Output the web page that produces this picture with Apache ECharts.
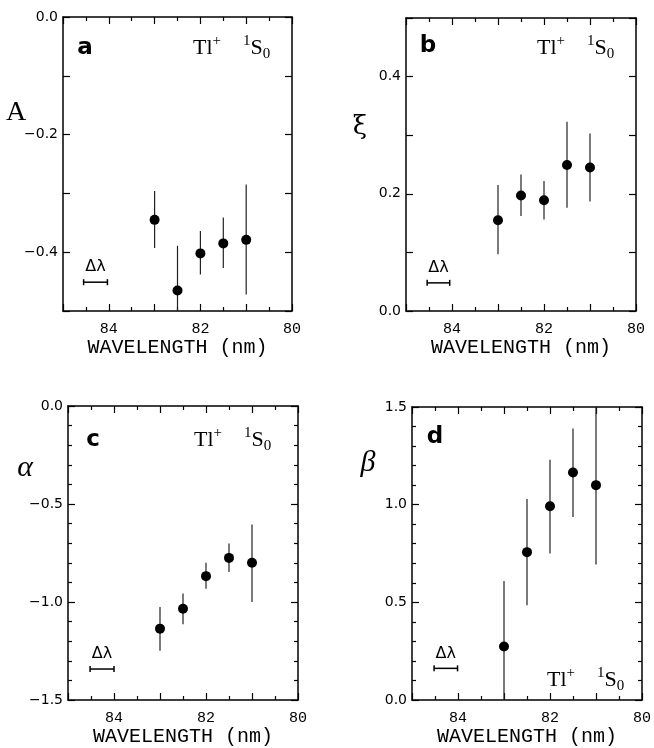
<!DOCTYPE html>
<html>
<head>
<meta charset="utf-8">
<script src="https://cdn.jsdelivr.net/npm/echarts@6/dist/echarts.min.js"></script>
<style>
html, body { margin: 0; padding: 0; background: #fff; }
#chart { width: 654px; height: 748px; }
</style>
</head>
<body>
<div id="chart"></div>
<script>
// wavelength of each measurement (nm)
const wavelength = [83, 82.5, 82, 81.5, 81];

// panel a : A
const aVal = [-0.345, -0.465, -0.402, -0.385, -0.379];
const aLow = [-0.393, -0.5, -0.438, -0.427, -0.472];
const aHigh = [-0.296, -0.389, -0.364, -0.341, -0.285];

// panel b : xi
const bVal = [0.155, 0.197, 0.189, 0.249, 0.245];
const bLow = [0.097, 0.162, 0.156, 0.176, 0.187];
const bHigh = [0.215, 0.233, 0.222, 0.323, 0.303];

// panel c : alpha
const cVal = [-1.136, -1.034, -0.868, -0.775, -0.80];
const cLow = [-1.249, -1.114, -0.932, -0.847, -1.0];
const cHigh = [-1.025, -0.956, -0.80, -0.702, -0.605];

// panel d : beta
const dVal = [0.274, 0.757, 0.992, 1.165, 1.10];
const dLow = [0.0, 0.485, 0.75, 0.937, 0.694];
const dHigh = [0.609, 1.029, 1.23, 1.39, 1.5];

// resolution bar (from, to, level) per panel
const resFrom = [84.55, 84.54, 84.52, 84.52];
const resTo = [84.03, 84.05, 84.0, 84.01];
const resLevel = [-0.451, 0.048, -1.342, 0.162];

// x axis range and labels
const xMin = 80;
const xMax = 85;
const xLabels = [84, 82, 80];

const values = [aVal, bVal, cVal, dVal];
const lows = [aLow, bLow, cLow, dLow];
const highs = [aHigh, bHigh, cHigh, dHigh];

// layout of the four boxes
const panels = [
  { left: 63, top: 17, width: 229, height: 294, yMin: -0.5, yMax: 0, yStep: 0.1, minor: 0, labelEvery: 2 },
  { left: 406, top: 18, width: 230, height: 293, yMin: 0, yMax: 0.5, yStep: 0.1, minor: 0, labelEvery: 2 },
  { left: 68, top: 406, width: 230, height: 295, yMin: -1.5, yMax: 0, yStep: 0.5, minor: 5, labelEvery: 1 },
  { left: 412, top: 407, width: 230, height: 294, yMin: 0, yMax: 1.5, yStep: 0.5, minor: 5, labelEvery: 1 }
];

const lineStyle = { color: '#000', width: 1.5 };

function yFormatter(p) {
  return function (v) {
    const k = Math.round(v / p.yStep);
    if (k % p.labelEvery !== 0) return '';
    return v.toFixed(1).replace('-', '\u2212');
  };
}

function renderErr(params, api) {
  const top = api.coord([api.value(0), api.value(2)]);
  const bot = api.coord([api.value(0), api.value(1)]);
  return {
    type: 'line',
    shape: { x1: top[0], y1: top[1], x2: bot[0], y2: bot[1] },
    style: { stroke: '#222', lineWidth: 1.2 }
  };
}

function renderRes(params, api) {
  const p1 = api.coord([api.value(0), api.value(2)]);
  const p2 = api.coord([api.value(1), api.value(2)]);
  const y = p1[1];
  const st = { stroke: '#000', lineWidth: 1.5 };
  return {
    type: 'group',
    children: [
      { type: 'line', shape: { x1: p1[0], y1: y, x2: p2[0], y2: y }, style: st },
      { type: 'line', shape: { x1: p1[0], y1: y - 3, x2: p1[0], y2: y + 3 }, style: st },
      { type: 'line', shape: { x1: p2[0], y1: y - 3, x2: p2[0], y2: y + 3 }, style: st },
      {
        type: 'text',
        style: {
          text: 'Δλ', x: (p1[0] + p2[0]) / 2, y: y - 7,
          align: 'center', verticalAlign: 'bottom',
          font: '16px "DejaVu Sans"', fill: '#000'
        }
      }
    ]
  };
}

const grid = [];
const xAxis = [];
const yAxis = [];
const series = [];

panels.forEach(function (p, i) {
  grid.push({ left: p.left, top: p.top, width: p.width, height: p.height });
  ['bottom', 'top'].forEach(function (pos) {
    xAxis.push({
      type: 'value', gridIndex: i, position: pos,
      min: xMin, max: xMax, interval: 1, inverse: true,
      axisLine: { show: true, onZero: false, lineStyle: lineStyle },
      axisTick: { show: true, inside: true, length: 7, lineStyle: { color: '#000', width: 1.2 } },
      minorTick: { show: true, splitNumber: 2, length: 4, lineStyle: { color: '#000', width: 1.2 } },
      splitLine: { show: false },
      axisLabel: {
        show: pos === 'bottom', margin: 11, showMinLabel: true, showMaxLabel: true,
        color: '#000', fontSize: 15, fontFamily: 'Liberation Mono',
        formatter: function (v) { return xLabels.indexOf(v) >= 0 ? String(v) : ''; }
      },
      name: pos === 'bottom' ? 'WAVELENGTH (nm)' : '',
      nameLocation: 'middle', nameGap: 27,
      nameTextStyle: { color: '#000', fontSize: 20, fontFamily: 'Liberation Mono' }
    });
  });
  ['left', 'right'].forEach(function (pos) {
    yAxis.push({
      type: 'value', gridIndex: i, position: pos,
      min: p.yMin, max: p.yMax, interval: p.yStep,
      axisLine: { show: true, onZero: false, lineStyle: lineStyle },
      axisTick: { show: true, inside: true, length: 7, lineStyle: { color: '#000', width: 1.2 } },
      minorTick: { show: p.minor > 0, splitNumber: p.minor || 5, length: 4, lineStyle: { color: '#000', width: 1.2 } },
      splitLine: { show: false },
      axisLabel: {
        show: pos === 'left', margin: 5, showMinLabel: true, showMaxLabel: true,
        color: '#000', fontSize: 14, fontFamily: 'DejaVu Sans',
        formatter: yFormatter(p)
      }
    });
  });

  const errData = wavelength.map(function (w, j) { return [w, lows[i][j], highs[i][j]]; });
  const ptData = wavelength.map(function (w, j) { return [w, values[i][j]]; });

  series.push({
    type: 'custom', xAxisIndex: i * 2, yAxisIndex: i * 2,
    renderItem: renderErr, data: errData,
    encode: { x: 0, y: [1, 2] }, silent: true, animation: false
  });
  series.push({
    type: 'scatter', xAxisIndex: i * 2, yAxisIndex: i * 2,
    data: ptData, symbol: 'circle', symbolSize: 10,
    itemStyle: { color: '#000', opacity: 1 }, silent: true, animation: false, z: 3
  });
  series.push({
    type: 'custom', xAxisIndex: i * 2, yAxisIndex: i * 2,
    renderItem: renderRes, data: [[resFrom[i], resTo[i], resLevel[i]]],
    encode: { x: [0, 1], y: 2 }, silent: true, animation: false
  });
});

// panel letters, ion labels and y symbols
const ionRich = {
  t: { fontSize: 22, fontFamily: 'Liberation Serif', lineHeight: 28 },
  sup: { fontSize: 15, fontFamily: 'Liberation Serif', verticalAlign: 'top', lineHeight: 28 },
  sub: { fontSize: 15, fontFamily: 'Liberation Serif', verticalAlign: 'bottom', lineHeight: 22 }
};
function ionLabel(x, y) {
  return {
    type: 'text', x: x, y: y,
    style: {
      text: '{t|Tl}{sup|+}{t|    }{sup|1}{t|S}{sub|0}',
      rich: ionRich, fill: '#000', verticalAlign: 'middle'
    }
  };
}
function letter(txt, x, y) {
  return {
    type: 'text', x: x, y: y,
    style: { text: txt, font: 'bold 23px "DejaVu Sans"', fill: '#000', align: 'center', verticalAlign: 'middle' }
  };
}
function symbol(txt, x, y, font) {
  return {
    type: 'text', x: x, y: y,
    style: { text: txt, font: font, fill: '#000', align: 'center', verticalAlign: 'middle' }
  };
}

const graphic = [
  letter('a', 85, 48), ionLabel(193, 48),
  letter('b', 428, 46), ionLabel(537, 48),
  letter('c', 93, 440), ionLabel(194, 440),
  letter('d', 435, 437), ionLabel(547, 680),
  symbol('A', 16, 113, '28px "Liberation Serif"'),
  symbol('ξ', 360, 127, '26px "DejaVu Serif"'),
  symbol('α', 25, 468, 'italic 30px "Liberation Serif"'),
  symbol('β', 368, 463, 'italic 30px "Liberation Serif"')
];

const chart = echarts.init(document.getElementById('chart'));
chart.setOption({
  backgroundColor: '#fff',
  animation: false,
  grid: grid,
  xAxis: xAxis,
  yAxis: yAxis,
  series: series,
  graphic: graphic
});
</script>
</body>
</html>
